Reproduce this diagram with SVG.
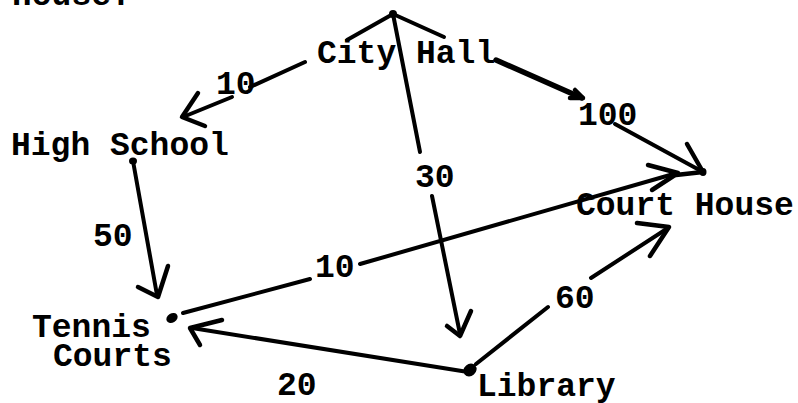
<svg xmlns="http://www.w3.org/2000/svg" width="798" height="403" viewBox="0 0 798 403">
  <style>
    .lbl { font-family: "Liberation Mono", "Courier New", monospace; font-weight: bold; font-size: 33px; fill: #000; }
    .edge { fill: none; stroke: #000; stroke-width: 4; stroke-linecap: round; stroke-linejoin: round; }
    .head { fill: none; stroke: #000; stroke-width: 4.5; stroke-linecap: round; stroke-linejoin: round; }
    .dot { fill: #000; }
  </style>
  <rect width="798" height="403" fill="#fff"/>

  <!-- heading line running off the top edge -->
  <text class="lbl" x="12" y="5">House.</text>

  <g id="connectors">
    <!-- City Hall: caret strokes over the name -->
    <path class="edge" d="M347,40 L393,14 L444,37"/>

    <!-- City Hall -> High School (10) -->
    <path class="edge" d="M305,62 L250,87"/>
    <path class="edge" d="M232,97 L183,117"/>
    <path class="head" d="M198,93 L182,117 L205,126"/>

    <!-- City Hall -> Library (30) -->
    <path class="edge" d="M393,14 L420,152"/>
    <path class="edge" d="M432,196 L460,334"/>
    <path class="head" d="M447,326 L460,336 L471,311"/>

    <!-- City Hall -> Court House (100) -->
    <path class="edge" d="M496,60 L582,98" style="stroke-width:5.5"/>
    <path class="head" d="M570,98 L583,98 L575,90"/>
    <path class="edge" d="M615,124 L703,172"/>
    <path class="head" d="M687,144 L703,172 L676,175"/>

    <!-- High School -> Tennis Courts (50) -->
    <path class="edge" d="M133,161 L157,295"/>
    <path class="head" d="M138,287 L158,297 L168,266"/>

    <!-- Tennis Courts -> Court House (10) -->
    <path class="edge" d="M183,313 L310,279"/>
    <path class="edge" d="M360,264 L677,173"/>
    <path class="head" d="M648,165 L678,173 L652,190"/>

    <!-- Library -> Tennis Courts (20) -->
    <path class="edge" d="M468,372 L192,328"/>
    <path class="head" d="M222,320 L190,328 L200,345"/>

    <!-- Library -> Court House (60) -->
    <path class="edge" d="M476,364 L548,307"/>
    <path class="edge" d="M591,278 L668,228"/>
    <path class="head" d="M637,223 L669,227 L650,256"/>
  </g>

  <g id="edge-labels">
    <text class="lbl" x="216" y="94">10</text>
    <text class="lbl" x="578" y="125">100</text>
    <text class="lbl" x="415" y="187">30</text>
    <text class="lbl" x="93" y="246">50</text>
    <text class="lbl" x="315" y="277">10</text>
    <text class="lbl" x="555" y="308">60</text>
    <text class="lbl" x="277" y="395">20</text>
  </g>

  <g id="city-hall">
    <ellipse class="dot" cx="393" cy="14" rx="4" ry="4"/>
    <text class="lbl" x="317" y="63">City Hall</text>
  </g>

  <g id="high-school">
    <ellipse class="dot" cx="133" cy="161" rx="4" ry="3.5"/>
    <text class="lbl" x="11" y="155">High School</text>
  </g>

  <g id="court-house">
    <ellipse class="dot" cx="703" cy="172" rx="3.5" ry="4"/>
    <text class="lbl" x="576" y="215">Court House</text>
  </g>

  <g id="tennis-courts">
    <ellipse class="dot" cx="172" cy="318" rx="6" ry="4.5" transform="rotate(-30 172 318)"/>
    <text class="lbl" x="32" y="337">Tennis</text>
    <text class="lbl" x="53" y="366">Courts</text>
  </g>

  <g id="library">
    <ellipse class="dot" cx="470" cy="370" rx="7" ry="6" transform="rotate(-40 470 370)"/>
    <text class="lbl" x="477" y="396">Library</text>
  </g>
</svg>
